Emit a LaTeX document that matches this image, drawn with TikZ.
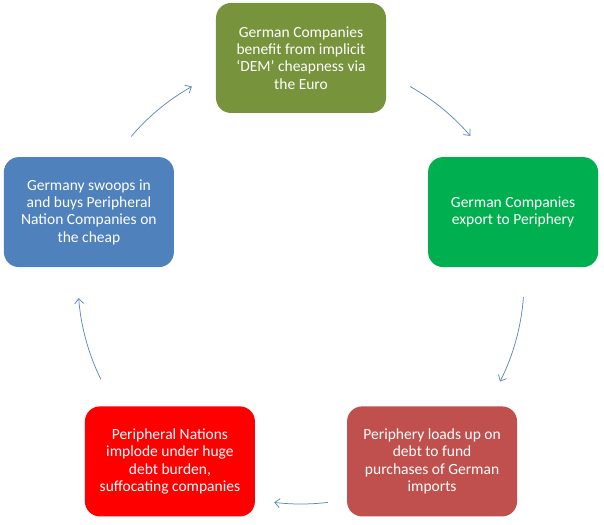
\documentclass[tikz,border=0pt]{standalone}
\usepackage{fontspec}
\setmainfont{Carlito}
\usetikzlibrary{arrows.meta}
\definecolor{olivebox}{RGB}{119,147,60}
\definecolor{greenbox}{RGB}{0,176,80}
\definecolor{brickbox}{RGB}{192,80,77}
\definecolor{redbox}{RGB}{255,0,0}
\definecolor{bluebox}{RGB}{79,129,189}
\definecolor{cycblue}{RGB}{95,135,195}

\begin{document}
\begin{tikzpicture}[x=1pt,y=1pt,
    stage/.style={rounded corners=15pt,minimum width=170pt,minimum height=110pt,
      inner sep=0pt,text=white,align=center,font=\fontsize{15.5}{17.3}\selectfont},
    cyc/.style={draw=cycblue,line width=0.75pt,-{Straight Barb[length=5pt,width=9pt]}}]
        \useasboundingbox (-301,281) rectangle (303,-243) ;
        % the five stages, round a circle of radius 223
        \node[stage,fill=olivebox] (euro) at (90:223)
        {German Companies\\benefit from implicit\\‘DEM’ cheapness via\\the Euro} ;
        \node[stage,fill=greenbox] (export) at (18:223)
        {German Companies\\export to Periphery} ;
        \node[stage,fill=brickbox] (debt) at (-54:223)
        {Periphery loads up on\\debt to fund\\purchases of German\\imports} ;
        \node[stage,fill=redbox] (implode) at (-126:223)
        {Peripheral Nations\\implode under huge\\debt burden,\\suffocating companies} ;
        \node[stage,fill=bluebox] (swoop) at (162:223)
        {Germany swoops in\\and buys Peripheral\\Nation Companies  on\\the cheap} ;
        % arrows between them
        \coordinate (c1) at (60.7:223) ;
        \coordinate (c2) at (-4.1:223) ;
        \coordinate (c3) at (-83.1:223) ;
        \coordinate (c4) at (206.2:223) ;
        \coordinate (c5) at (139.6:223) ;
        \draw[cyc] (c1) arc[start angle=60.7,end angle=40.6,radius=223] ;
        \draw[cyc] (c2) arc[start angle=-4.1,end angle=-26.8,radius=223] ;
        \draw[cyc] (c3) arc[start angle=-83.1,end angle=-96.9,radius=223] ;
        \draw[cyc] (c4) arc[start angle=206.2,end angle=184.4,radius=223] ;
        \draw[cyc] (c5) arc[start angle=139.6,end angle=119.3,radius=223] ;
      \end{tikzpicture}
\end{document}
